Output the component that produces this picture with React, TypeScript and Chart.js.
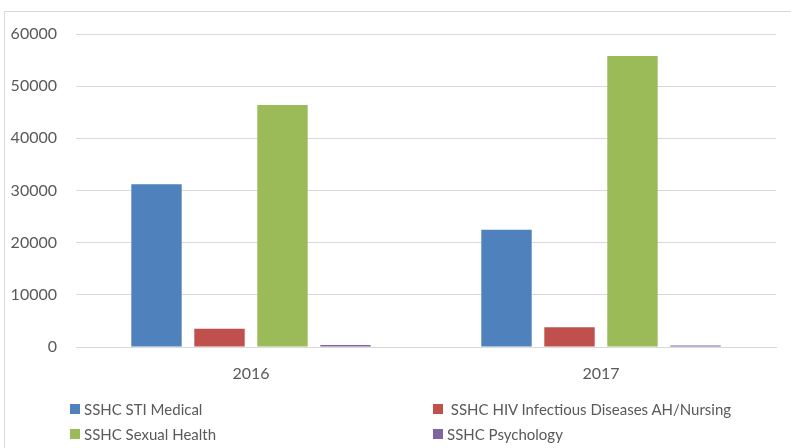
import React, { useEffect, useRef } from "react";
import { Chart, registerables } from "chart.js";

Chart.register(...registerables);

const categories = ["2016", "2017"];
const seriesNames = [
  "SSHC STI Medical",
  " SSHC HIV Infectious Diseases AH/Nursing",
  "SSHC Sexual Health",
  "SSHC Psychology",
];
const stiMedical = [31200, 22500];
const hivNursing = [3500, 3800];
const sexualHealth = [46400, 55800];
const psychology = [400, 300];
const seriesColors = ["#4f81bd", "#c0504d", "#9bbb59", "#8064a2"];
const yTicks = [0, 10000, 20000, 30000, 40000, 50000, 60000];

const FONT = "Lato, 'Open Sans', sans-serif";
const TEXT = "#595959";

export default function App() {
  const ref = useRef<HTMLCanvasElement>(null);
  useEffect(() => {
    document.body.style.margin = "0";
    const values = [stiMedical, hivNursing, sexualHealth, psychology];
    const chart = new Chart(ref.current!, {
      type: "bar",
      data: {
        labels: categories,
        datasets: seriesNames.map((name, i) => ({
          label: name,
          data: values[i],
          backgroundColor: seriesColors[i],
          borderWidth: 0,
          categoryPercentage: 0.72,
          barPercentage: 0.8,
        })),
      },
      options: {
        animation: false,
        responsive: false,
        maintainAspectRatio: false,
        layout: { padding: { top: 34, right: 15, left: 0, bottom: 0 } },
        plugins: { legend: { display: false }, tooltip: { enabled: false } },
        scales: {
          x: {
            grid: { display: false, drawTicks: false },
            border: { display: true, color: "#d9d9d9", width: 1 },
            ticks: { color: TEXT, font: { family: FONT, size: 16 }, padding: 17 },
            afterFit: (s: any) => {
              s.height = 448 - 347;
            },
          },
          y: {
            min: 0,
            max: 60000,
            afterBuildTicks: (s: any) => {
              s.ticks = yTicks.map((v) => ({ value: v }));
            },
            grid: { color: "#d9d9d9", lineWidth: 1, drawTicks: false },
            border: { display: false },
            ticks: {
              color: TEXT,
              font: { family: FONT, size: 16 },
              padding: 19,
              callback: (v: any) => String(v),
            },
            afterFit: (s: any) => {
              s.width = 76;
            },
          },
        },
      },
    });
    return () => chart.destroy();
  }, []);

  return (
    <div style={{ position: "relative", width: 791, height: 448, overflow: "hidden", background: "#fff" }}>
      <div
        style={{
          position: "absolute",
          left: 4,
          top: 11,
          width: 800,
          height: 460,
          border: "1px solid #d9d9d9",
          boxSizing: "border-box",
        }}
      />
      <canvas ref={ref} width={791} height={448} style={{ position: "absolute", left: 0, top: 0 }} />
      <div
        style={{
          position: "absolute",
          left: 70,
          top: 396,
          display: "grid",
          gridTemplateColumns: "363px auto",
          gridAutoRows: "25px",
          fontFamily: FONT,
          fontSize: 15,
          color: TEXT,
        }}
      >
        {seriesNames.map((name, i) => (
          <div key={name} style={{ display: "flex", alignItems: "center", whiteSpace: "pre" }}>
            <span
              style={{
                display: "inline-block",
                width: 10,
                height: 10,
                background: seriesColors[i],
                marginRight: 4,
              }}
            />
            <span>{name}</span>
          </div>
        ))}
      </div>
    </div>
  );
}
